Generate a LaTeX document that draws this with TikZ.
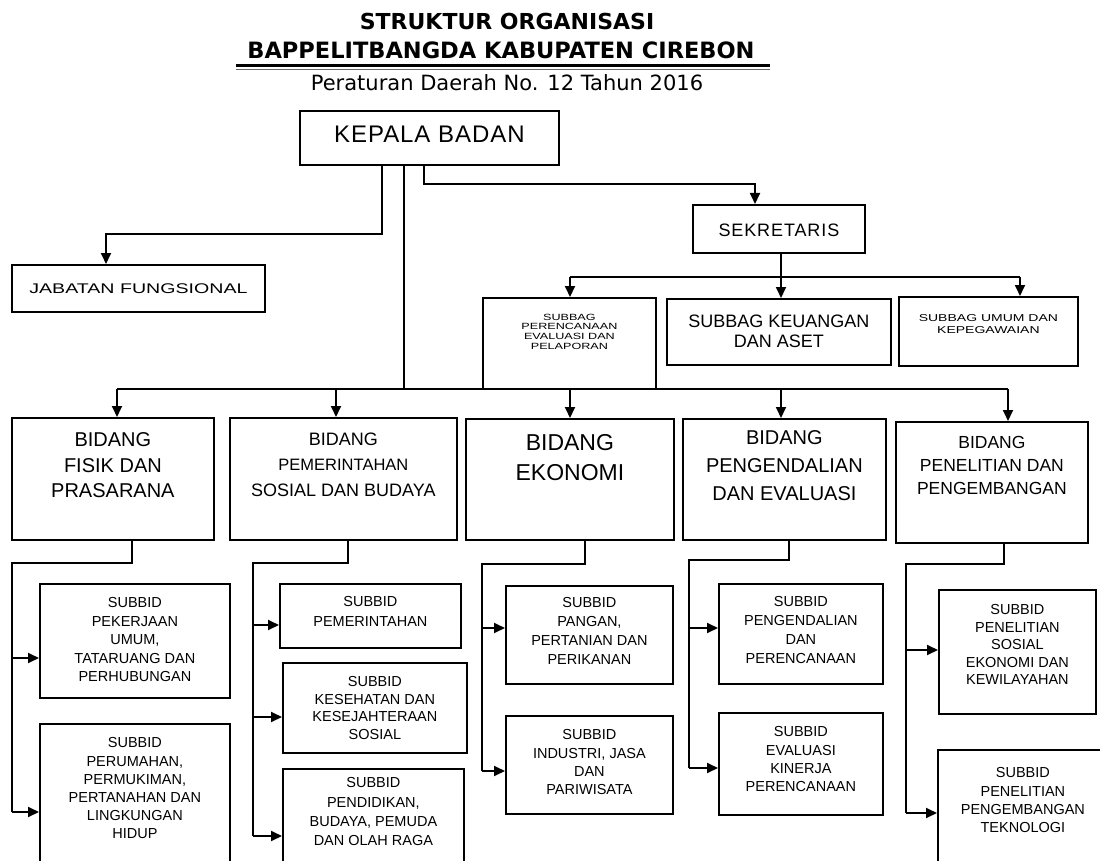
\documentclass[tikz,border=0pt]{standalone}
\usepackage{fontspec}
\setmainfont{Liberation Sans}
\newfontfamily\titlefont{DejaVu Sans}
\newfontfamily\widefont[FakeStretch=1.4]{Liberation Sans}
\usepackage{tikz}
\usetikzlibrary{arrows.meta}

% text of a box: width, height, top gap, lines
\newcommand{\inbox}[4]{\parbox[c][#2pt][t]{#1pt}{\centering\vspace*{#3pt}#4\par}}

\tikzset{
  box/.style={draw=black, line width=1.8pt, inner sep=0pt, anchor=north west},
  link/.style={line width=1.8pt},
  arr/.style={line width=1.8pt, -{Triangle[length=11pt,width=10pt]}},
  subbid/.style={box, font=\fontsize{14.5}{18.5}\selectfont}
}

\begin{document}
\begin{tikzpicture}[x=1pt,y=-1pt]
    \useasboundingbox (0,0) rectangle (1100,861);
    \fill[white] (0,0) rectangle (1100,861);
    \clip (0,0) rectangle (1100,861);

    % title
    \node[anchor=base, font=\titlefont\bfseries\fontsize{22}{26}\selectfont] (T1) at (507,30) {STRUKTUR ORGANISASI};
    \node[anchor=base, font=\titlefont\bfseries\fontsize{22.5}{26}\selectfont] (T2) at (501,59) {BAPPELITBANGDA KABUPATEN CIREBON};
    \draw[line width=3pt] (236,65.5) -- (770,65.5);
    \draw[line width=0.8pt, black!60] (236,69.5) -- (770,69.5);
    \node[anchor=base, font=\titlefont\fontsize{21}{25}\selectfont] (T3) at (507,91) {Peraturan Daerah No. 12 Tahun 2016};

    % top
    \node[box, font=\addfontfeatures{LetterSpace=4}\fontsize{24}{28}\selectfont] (K) at (299,110) {\inbox{259}{54}{15.1}{KEPALA BADAN}};
    \node[box, font=\widefont\fontsize{14}{17}\selectfont] (J) at (11,264) {\inbox{253}{47}{19.1}{JABATAN FUNGSIONAL}};
    \node[box, font=\addfontfeatures{LetterSpace=5}\fontsize{18}{21}\selectfont] (S) at (692,204) {\inbox{172}{48}{19.2}{SEKRETARIS}};

    % subbag
    \node[box, font=\widefont\fontsize{9}{9.7}\selectfont] (SB1) at (482,297) {\inbox{173}{91}{15.9}{SUBBAG\\PERENCANAAN\\EVALUASI DAN\\PELAPORAN}};
    \node[box, font=\fontsize{18}{20}\selectfont] (SB2) at (666,298) {\inbox{224}{66}{15.7}{SUBBAG KEUANGAN\\DAN ASET}};
    \node[box, font=\widefont\fontsize{10}{12}\selectfont] (SB3) at (898,296) {\inbox{179}{69}{17.5}{SUBBAG UMUM DAN\\KEPEGAWAIAN}};

    % bidang
    \node[box, font=\fontsize{20}{25.5}\selectfont] (B1) at (11,417) {\inbox{202}{122}{15}{BIDANG\\FISIK DAN\\PRASARANA}};
    \node[box, font=\fontsize{18}{25.5}\selectfont] (B2) at (229,417) {\inbox{227}{122}{14.7}{BIDANG\\{\fontsize{16.5}{25.5}\selectfont PEMERINTAHAN}\\SOSIAL DAN BUDAYA}};
    \node[box, font=\fontsize{23}{30}\selectfont] (B3) at (465,418) {\inbox{208}{121}{16}{BIDANG\\EKONOMI}};
    \node[box, font=\fontsize{20}{28}\selectfont] (B4) at (682,418) {\inbox{203}{121}{12}{BIDANG\\PENGENDALIAN\\DAN EVALUASI}};
    \node[box, font=\fontsize{17.5}{23}\selectfont] (B5) at (895,421) {\inbox{192}{121}{13.9}{BIDANG\\PENELITIAN DAN\\PENGEMBANGAN}};

    % subbid
    \node[subbid, font=\fontsize{14.5}{18.5}\selectfont] (D11) at (39,583) {\inbox{190}{114}{13.9}{SUBBID\\PEKERJAAN\\UMUM,\\TATARUANG DAN\\PERHUBUNGAN}};
    \node[subbid, font=\fontsize{14.5}{18.2}\selectfont] (D12) at (39,723) {\inbox{190}{160}{13.9}{SUBBID\\PERUMAHAN,\\PERMUKIMAN,\\PERTANAHAN DAN\\LINGKUNGAN\\HIDUP}};
    \node[subbid, font=\fontsize{14.5}{20}\selectfont] (D21) at (279,583) {\inbox{181}{64}{12.9}{SUBBID\\PEMERINTAHAN}};
    \node[subbid, font=\fontsize{14.5}{17.5}\selectfont] (D22) at (282,662) {\inbox{184}{90}{13.9}{SUBBID\\KESEHATAN DAN\\KESEJAHTERAAN\\SOSIAL}};
    \node[subbid, font=\fontsize{14.5}{19.3}\selectfont] (D23) at (282,768) {\inbox{181}{110}{8.9}{SUBBID\\PENDIDIKAN,\\BUDAYA, PEMUDA\\DAN OLAH RAGA}};
    \node[subbid, font=\fontsize{14.5}{19}\selectfont] (D31) at (505,585) {\inbox{167}{98}{11.9}{SUBBID\\PANGAN,\\PERTANIAN DAN\\PERIKANAN}};
    \node[subbid, font=\fontsize{14.5}{18.3}\selectfont] (D32) at (505,715) {\inbox{167}{98}{13.9}{SUBBID\\INDUSTRI, JASA\\DAN\\PARIWISATA}};
    \node[subbid, font=\fontsize{14.5}{18.7}\selectfont] (D41) at (718,583) {\inbox{164}{100}{12.9}{SUBBID\\PENGENDALIAN\\DAN\\PERENCANAAN}};
    \node[subbid, font=\fontsize{14.5}{18.3}\selectfont] (D42) at (718,712) {\inbox{164}{102}{13.9}{SUBBID\\EVALUASI\\KINERJA\\PERENCANAAN}};
    \node[subbid, font=\fontsize{14.5}{17.5}\selectfont] (D51) at (938,589) {\inbox{157}{124}{14.9}{SUBBID\\PENELITIAN\\SOSIAL\\EKONOMI DAN\\KEWILAYAHAN}};
    \node[subbid, font=\fontsize{14.5}{18.3}\selectfont] (D52) at (937,749) {\inbox{170}{130}{17.9}{SUBBID\\PENELITIAN\\PENGEMBANGAN\\TEKNOLOGI}};

    % kepala badan
    \draw[arr] (K.south -| 382,0) |- (106,234) -- (J.north -| 106,0);
    \draw[arr] (K.south -| 424,0) |- (755,184) -- (S.north -| 755,0);
    \draw[link] (K.south -| 404,0) -- (404,389);

    % sekretaris
    \draw[link] (S.south -| 781,0) -- (781,277);
    \draw[link] (570,277) -- (1020,277);
    \draw[arr] (570,277) -- (SB1.north -| 570,0);
    \draw[arr] (781,277) -- (SB2.north -| 781,0);
    \draw[arr] (1020,277) -- (SB3.north -| 1020,0);

    % bidang
    \draw[link] (117,389) -- (1008,389);
    \draw[arr] (117,389) -- (B1.north -| 117,0);
    \draw[arr] (336,389) -- (B2.north -| 336,0);
    \draw[arr] (570,389) -- (B3.north -| 570,0);
    \draw[arr] (781,389) -- (B4.north -| 781,0);
    \draw[arr] (1008,389) -- (B5.north -| 1008,0);

    % subbid
    \draw[link] (B1.south -| 132,0) |- (12,563) -- (12,812);
    \draw[arr] (12,658) -- (D11.west |- 12,658);
    \draw[arr] (12,812) -- (D12.west |- 12,812);
    \draw[link] (B2.south -| 348,0) |- (253,563) -- (253,836);
    \draw[arr] (253,625) -- (D21.west |- 253,625);
    \draw[arr] (253,717) -- (D22.west |- 253,717);
    \draw[arr] (253,836) -- (D23.west |- 253,836);
    \draw[link] (B3.south -| 585,0) |- (482,564) -- (482,771);
    \draw[arr] (482,628) -- (D31.west |- 482,628);
    \draw[arr] (482,771) -- (D32.west |- 482,771);
    \draw[link] (B4.south -| 789,0) |- (689,560) -- (689,768);
    \draw[arr] (689,628) -- (D41.west |- 689,628);
    \draw[arr] (689,768) -- (D42.west |- 689,768);
    \draw[link] (B5.south -| 1004,0) |- (906,564) -- (906,813);
    \draw[arr] (906,650) -- (D51.west |- 906,650);
    \draw[arr] (906,813) -- (D52.west |- 906,813);
\end{tikzpicture}
\end{document}
